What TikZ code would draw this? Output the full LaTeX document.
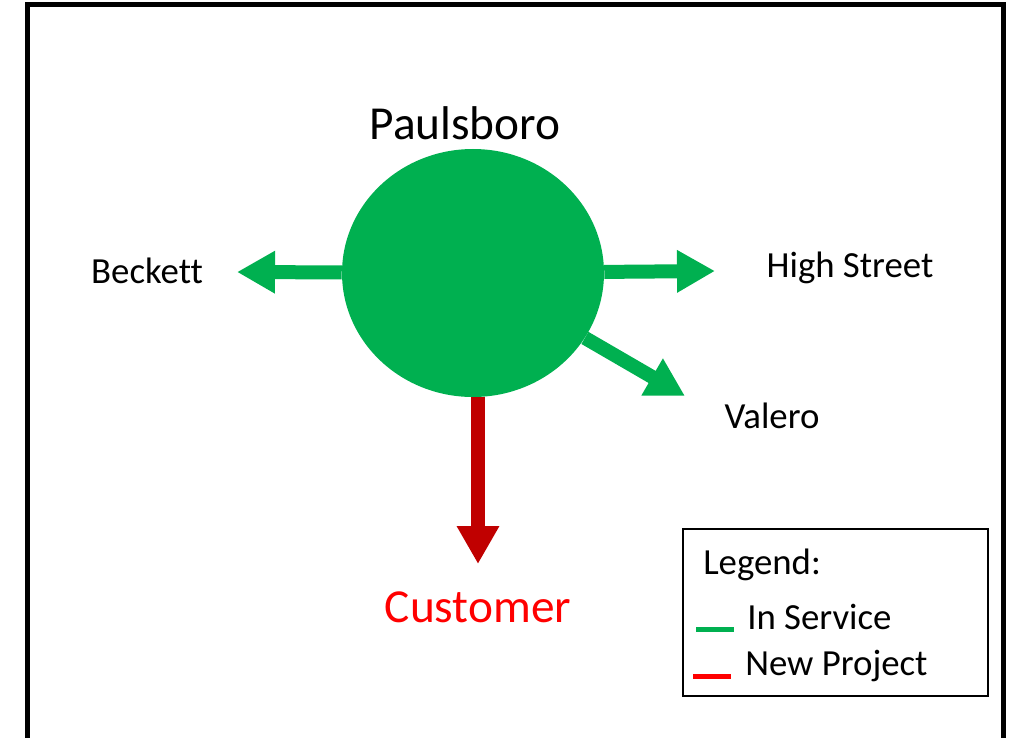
\documentclass[tikz,border=0pt]{standalone}
\usepackage{fontspec}
\setmainfont{Carlito}[Ligatures=NoCommon]
\usetikzlibrary{arrows.meta,shapes.geometric}
\definecolor{servicegreen}{RGB}{0,176,80}
\definecolor{projectred}{RGB}{192,0,0}

\begin{document}
\begin{tikzpicture}[x=0.75pt, y=-0.75pt,
    site/.style={font=\fontsize{27.6}{32}\selectfont, inner sep=0pt, anchor=base},
    bigsite/.style={site, font=\fontsize{35.5}{40}\selectfont},
    feed/.style={line width=10.5pt, -{Triangle[length=28.5pt, width=30pt]}},
    key/.style={line width=3.75pt}]

\useasboundingbox (0,0) rectangle (1013,738);
\clip (0,0) rectangle (1013,738);
\draw[line width=3.75pt] (27,5) rectangle (1003,790);

\node (hub) [ellipse, fill=servicegreen, inner sep=0pt, minimum width=196.5pt, minimum height=186pt] at (473,273) {};
\node (paulsboro) [bigsite] at (465,140) {Paulsboro};

\coordinate (becktip) at (237,272);
\coordinate (hightip) at (715,271);
\coordinate (valtip) at (685,396);
\coordinate (custtip) at (478,564);

\draw[feed, servicegreen] (hub) -- (becktip);
\draw[feed, servicegreen] (hub) -- (hightip);
\draw[feed, servicegreen] (hub) -- (valtip);
\draw[feed, projectred] (hub.south -| custtip) -- (custtip);

\node (beckett) [site] at (147,283) {Beckett};
\node (highstreet) [site] at (850,277) {High Street};
\node (valero) [site] at (772,428) {Valero};
\node (customer) [bigsite, text=red] at (478,622) {Customer};

% legend
\node (legend) [draw, line width=1.5pt, inner sep=0pt, minimum width=228.75pt, minimum height=125.25pt] at (835.5,612.5) {};
\node (legendtitle) [site, anchor=base west] at (703,574) {Legend:};
\node (inservice) [site, anchor=base west] at (747,629) {In Service};
\node (newproject) [site, anchor=base west] at (745,675) {New Project};
\draw[key, servicegreen] (696,629) -- (734,629);
\draw[key, red] (693,676) -- (731,676);
\end{tikzpicture}
\end{document}
